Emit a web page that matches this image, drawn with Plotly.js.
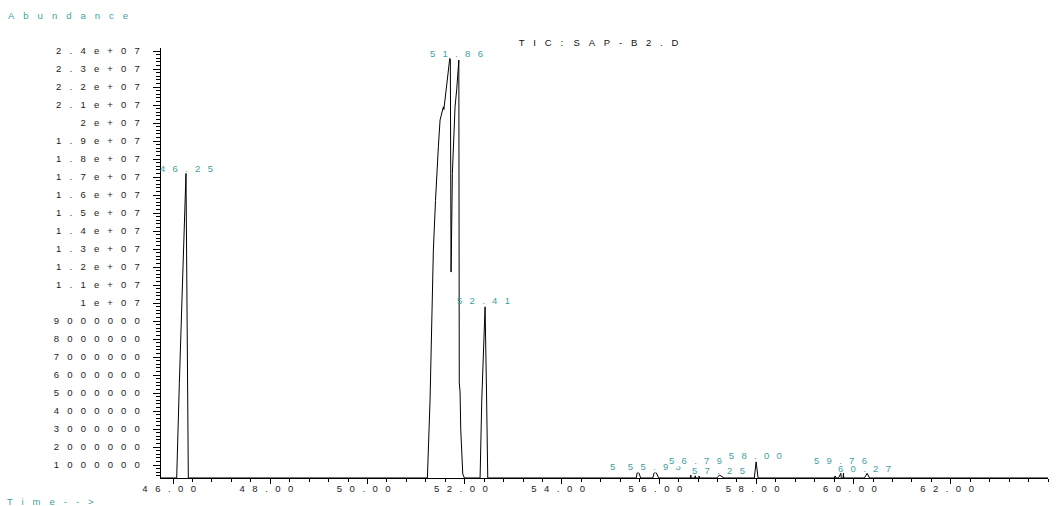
<!DOCTYPE html>
<html><head><meta charset="utf-8">
<script src="https://cdn.plot.ly/plotly-3.0.1.min.js"></script>
<style>
html,body{margin:0;padding:0;background:#fff;}
#chart{width:1058px;height:506px;}
.xtick text{letter-spacing:7.5px;}
.ytick text{letter-spacing:8.2px;}
.annotation-text{letter-spacing:7.3px;}
g.annotation[data-index="10"] text, g.annotation[data-index="11"] text{letter-spacing:9px;}
.gtitle{letter-spacing:8.8px;}
</style></head><body><div id="chart"></div>
<script>
// Retention time (min) and abundance
const time = [
  45.75, 46.076, 46.13, 46.191, 46.233, 46.267, 46.315,
  51.233, 51.288, 51.323, 51.356, 51.40, 51.446, 51.459, 51.494, 51.529, 51.562, 51.572, 51.582, 51.597, 51.652, 51.693, 51.705,
  51.720, 51.727, 51.747, 51.775, 51.802, 51.837, 51.870, 51.880, 51.889, 51.905, 51.920, 51.940, 51.961, 51.994,
  52.317, 52.352, 52.389, 52.420, 52.449, 52.475,
  55.53, 55.55, 55.58, 55.62,
  55.87, 55.90, 55.94, 55.99,
  56.645, 56.652, 56.659, 56.737, 56.742, 56.747, 56.815, 56.823, 56.831,
  57.187, 57.241, 57.286, 57.337,
  57.958, 57.996, 58.035,
  59.605, 59.621, 59.637, 59.690, 59.739, 59.746, 59.786, 59.792, 59.798,
  60.224, 60.265, 60.280, 60.327,
  64.0
];
const abundance = [
  280000, 280000, 5540000, 11090000, 14790000, 17200000, 280000,
  280000, 4610000, 9220000, 12940000, 15700000, 18500000, 18680000, 20170000, 20630000, 20900000, 20750000, 21000000, 21370000, 22760000, 23590000, 23550000,
  11720000, 13000000, 17200000, 19000000, 20900000, 21900000, 23500000, 23500000, 5560000, 5060000, 2940000, 1110000, 500000, 280000,
  280000, 4610000, 7940000, 9790000, 5060000, 280000,
  280000, 590000, 590000, 280000,
  280000, 580000, 580000, 280000,
  280000, 440000, 280000, 280000, 400000, 280000, 280000, 390000, 280000,
  280000, 440000, 360000, 280000,
  280000, 1180000, 280000,
  280000, 390000, 280000, 280000, 540000, 280000, 280000, 540000, 280000,
  280000, 540000, 540000, 280000,
  280000
];
const yTickValues = [1000000, 2000000, 3000000, 4000000, 5000000, 6000000, 7000000, 8000000, 9000000,
  10000000, 11000000, 12000000, 13000000, 14000000, 15000000, 16000000, 17000000, 18000000, 19000000,
  20000000, 21000000, 22000000, 23000000, 24000000];
const yTickLabels = ['1000000', '2000000', '3000000', '4000000', '5000000', '6000000', '7000000', '8000000', '9000000',
  '1e+07', '1.1e+07', '1.2e+07', '1.3e+07', '1.4e+07', '1.5e+07', '1.6e+07', '1.7e+07', '1.8e+07', '1.9e+07',
  '2e+07', '2.1e+07', '2.2e+07', '2.3e+07', '2.4e+07'];
const xTickValues = [46, 48, 50, 52, 54, 56, 58, 60, 62];
const xTickLabels = ['46.00', '48.00', '50.00', '52.00', '54.00', '56.00', '58.00', '60.00', '62.00'];
const peakLabels = ['46.25', '51.86', '52.41', '55.57', '55.93', '57.25', '56.79', '58.00', '59.76', '60.27'];

const teal = '#3f9f9f';
const font = 'Liberation Sans, Arial, sans-serif';

// label placement (time, abundance), opaque box, box width
const labelPos = [
  [46.35, 17480000, false, null], [51.912, 23870000, false, null], [52.461, 10130000, false, null],
  [55.613, 944000, false, null], [55.969, 944000, true, 72], [57.292, 722000, false, null],
  [56.813, 1278000, true, null], [58.047, 1556000, true, 74], [59.796, 1278000, false, null], [60.290, 817000, false, null]
];

const annotations = peakLabels.map((t, i) => {
  const a = {
    text: t, x: labelPos[i][0], y: labelPos[i][1], xref: 'x', yref: 'y',
    xanchor: 'center', yanchor: 'middle', showarrow: false, borderpad: 0,
    bgcolor: labelPos[i][2] ? '#ffffff' : 'rgba(0,0,0,0)',
    font: {family: font, size: 9.5, color: teal}
  };
  if (labelPos[i][3]) a.width = labelPos[i][3];
  return a;
});
annotations.push({
  text: 'Abundance', xref: 'paper', yref: 'paper', x: -0.1748, y: 1.0767,
  xanchor: 'left', yanchor: 'middle', align: 'left', showarrow: false,
  font: {family: font, size: 9.5, color: teal}
});
annotations.push({
  text: 'Time-->', xref: 'paper', yref: 'paper', x: -0.1758, y: -0.0535,
  xanchor: 'left', yanchor: 'middle', align: 'left', showarrow: false,
  font: {family: font, size: 9.5, color: teal}
});

const trace = {
  x: time, y: abundance, type: 'scatter', mode: 'lines',
  line: {color: '#000000', width: 1}, hoverinfo: 'skip'
};

const layout = {
  width: 1058, height: 506,
  margin: {l: 161, r: 10, t: 48, b: 28},
  paper_bgcolor: '#ffffff', plot_bgcolor: '#ffffff',
  showlegend: false,
  title: {
    text: 'TIC:<span style="letter-spacing:-1px"> </span>SAP-B2.D', x: 603 / 1058, xref: 'container', xanchor: 'center',
    y: 1 - 43 / 506, yref: 'container', yanchor: 'middle',
    font: {family: font, size: 9.5, color: '#111'}
  },
  xaxis: {
    range: [45.753, 64.0], showgrid: false, zeroline: false,
    showline: true, linecolor: '#000', linewidth: 1,
    tickmode: 'array', tickvals: xTickValues, ticktext: xTickLabels,
    ticks: 'outside', ticklen: 5, tickcolor: '#000', tickwidth: 1, ticklabelstandoff: -3,
    tickfont: {family: font, size: 9.5, color: '#222'},
    minor: {dtick: 0.4, tick0: 46, ticks: 'outside', ticklen: 3, tickcolor: '#000', tickwidth: 1, showgrid: false}
  },
  yaxis: {
    range: [278000, 24170000], showgrid: false, zeroline: false,
    showline: true, linecolor: '#000', linewidth: 1,
    tickmode: 'array', tickvals: yTickValues, ticktext: yTickLabels,
    ticks: 'outside', ticklen: 7, tickcolor: '#000', tickwidth: 1, ticklabelstandoff: 3,
    tickfont: {family: font, size: 9.5, color: '#222'},
    minor: {dtick: 200000, tick0: 0, ticks: 'outside', ticklen: 4, tickcolor: '#000', tickwidth: 1, showgrid: false}
  },
  annotations: annotations
};

Plotly.newPlot('chart', [trace], layout, {displayModeBar: false, staticPlot: true});
</script></body></html>
